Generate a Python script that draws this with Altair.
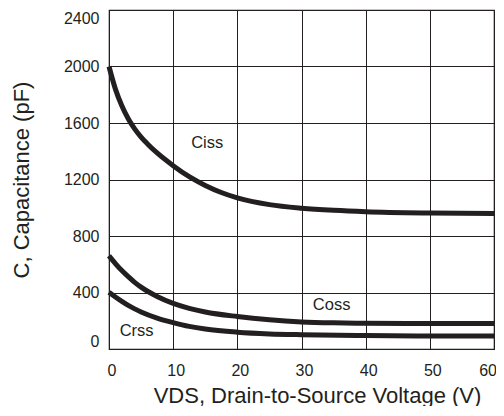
import altair as alt
import pandas as pd

# ---- data ----
ciss_v = [0, 1, 2, 3, 4, 5, 6, 7.5, 10, 12.5, 15, 17.5, 20, 25, 30, 35, 40, 50, 60]
ciss_c = [2000, 1840, 1722, 1630, 1558, 1500, 1452, 1388, 1298, 1220, 1158, 1108, 1070, 1022, 997, 982, 972, 963, 960]

coss_v = [0, 1, 2, 3, 4, 5, 7.5, 10, 12.5, 15, 20, 25, 30, 35, 40, 50, 60]
coss_c = [660, 605, 555, 512, 472, 438, 372, 323, 288, 262, 230, 207, 192, 185, 182, 180, 180]

crss_v = [0, 1, 2, 3, 4, 5, 7.5, 10, 12.5, 15, 20, 25, 30, 40, 50, 60]
crss_c = [402, 368, 337, 309, 284, 262, 219, 187, 160, 141, 119, 107, 101, 95, 92, 92]

label_text = ["Ciss", "Coss", "Crss"]
label_x = [15.3, 34.7, 4.3]
label_y = [1461, 309, 125]

x_ticks = [0, 10, 20, 30, 40, 50, 60]
y_ticks = [0, 400, 800, 1200, 1600, 2000, 2400]

rows = []
for name, vs, cs in [("Ciss", ciss_v, ciss_c), ("Coss", coss_v, coss_c), ("Crss", crss_v, crss_c)]:
    for v, c in zip(vs, cs):
        rows.append({"series": name, "V": v, "C": c})
df = pd.DataFrame(rows)
labels = pd.DataFrame({"text": label_text, "V": label_x, "C": label_y})

FONT = "Liberation Sans"
INK = "#231f20"

xscale = alt.Scale(domain=[0, 60], nice=False, zero=False)
yscale = alt.Scale(domain=[0, 2400], nice=False)

lines = alt.Chart(df).mark_line(
    color=INK, strokeWidth=5, interpolate="monotone", strokeCap="butt"
).encode(
    x=alt.X("V:Q", scale=xscale,
            axis=alt.Axis(values=x_ticks, title="VDS, Drain-to-Source Voltage (V)",
                          grid=True, gridColor=INK, gridOpacity=1, gridWidth=1,
                          ticks=False, domain=False, labelPadding=13, labelOffset=2.5,
                          labelFlush=False, format="d",
                          labelAlign={"condition": {"test": "datum.value >= 60", "value": "right"},
                                      "value": "center"},
                          labelFontSize=16, labelFont=FONT, labelColor=INK,
                          titleFont=FONT, titleFontSize=22, titleFontWeight="normal",
                          titleColor=INK, titleBaseline="alphabetic",
                          titleX=208, titleY=53)),
    y=alt.Y("C:Q", scale=yscale,
            axis=alt.Axis(values=y_ticks, title="C, Capacitance (pF)",
                          grid=True, gridColor=INK, gridOpacity=1, gridWidth=1,
                          ticks=False, domain=False, labelPadding=10, labelFlush=True,
                          format="d",
                          labelFontSize=16, labelFont=FONT, labelColor=INK,
                          titleFont=FONT, titleFontSize=22, titleFontWeight="normal",
                          titleColor=INK, titleBaseline="alphabetic",
                          titleX=-81, titleY=169.5)),
    detail="series:N",
)

texts = alt.Chart(labels).mark_text(
    font=FONT, fontSize=16.5, color=INK, align="center", baseline="middle"
).encode(x=alt.X("V:Q", scale=xscale), y=alt.Y("C:Q", scale=yscale), text="text:N")

chart = alt.layer(lines, texts).properties(
    width=385, height=339,
    autosize=alt.AutoSizeParams(type="none"),
    padding={"left": 101, "top": 2, "right": 2, "bottom": 57},
    background="white",
).configure_view(stroke=INK, strokeWidth=1.2)

chart.save("out.html", embed_options={"renderer": "svg", "actions": False})
